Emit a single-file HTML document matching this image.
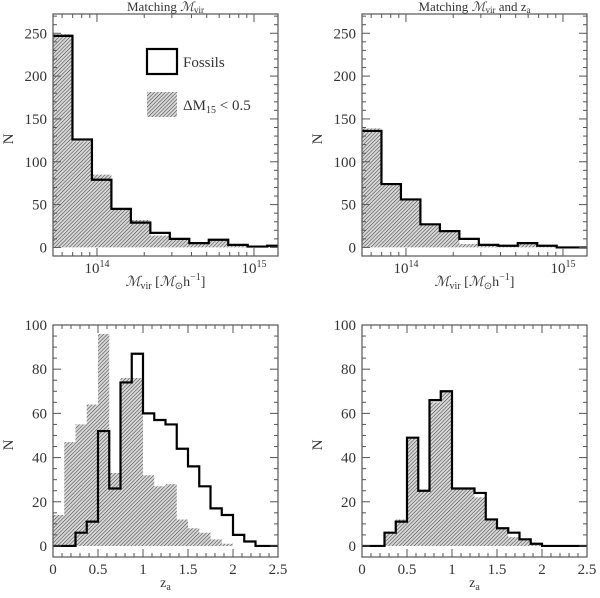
<!DOCTYPE html>
<html><head><meta charset="utf-8">
<style>
html,body{margin:0;padding:0;background:#fff}
svg text{font-family:"Liberation Serif",serif;fill:#333}
</style></head>
<body>
<svg id="fig" width="600" height="593" viewBox="0 0 600 593" xmlns="http://www.w3.org/2000/svg">
<defs>
<pattern id="hatch" patternUnits="userSpaceOnUse" width="2.6" height="2.6" patternTransform="rotate(45)">
<rect width="2.6" height="2.6" fill="#d8d8d8"/>
<line x1="0" y1="0" x2="0" y2="2.6" stroke="#333" stroke-width="1"/>
</pattern>
</defs>
</svg>
<script>
// Top panels: log10(Mvir) bins
const massEdgeStart = 13.72;
const massBinWidth = 0.124;
const massFossilsA = [247,126,79,45,29,17,10,5,9,3,1,2];
const massHatchA   = [249,124,85,45,32,14,11,5,10,2,1,1];
const massFossilsB = [136,74,56,27,19,10,3,2,5,2,0,0];
const massHatchB   = [139,74,56,27,19,4,3,2,5,2,0,0];
// Bottom panels: z_a bins
const zBinWidth = 0.125;
const zFossilsA = [0,0,6,11,52,26,74,87,60,57,55,44,36,27,17,14,5,2,0,0];
const zHatchA   = [14,47,55,64,96,33,76,76,32,27,28,12,8,6,3,1,0,0,0,0];
const zFossilsB = [0,0,6,11,49,25,66,70,26,26,24,12,8,6,3,1,0,0,0,0];
const zHatchB   = [0,0,6,12,49,25,65,70,26,26,22,12,8,4,3,1,0,0,0,0];
const massYTicks = [0,50,100,150,200,250];
const zYTicks = [0,20,40,60,80,100];
const zXTicks = [0,0.5,1,1.5,2,2.5];
const zXTickLabels = ["0","0.5","1","1.5","2","2.5"];

const NS="http://www.w3.org/2000/svg";
const svg=document.getElementById('fig');
function mk(tag,attrs,parent){const e=document.createElementNS(NS,tag);for(const k in attrs)e.setAttribute(k,attrs[k]);(parent||svg).appendChild(e);return e;}

function panel(name,x0,x1,yTop,yBot,xmin,xmax,ymin,ymax,start,bw,fos,hat,yTicks,yMinor,xMaj,xMajLab,xMinor,logAxis,xlabel,title){
  const g=mk('g',{});
  
  
  const sx=v=>x0+(v-xmin)/(xmax-xmin)*(x1-x0);
  const sy=v=>yBot-(v-ymin)/(ymax-ymin)*(yBot-yTop);
  const clip='clip-'+name;
  const cp=mk('clipPath',{id:clip},g);mk('rect',{x:x0,y:yTop,width:x1-x0,height:yBot-yTop},cp);
  let d='M'+sx(start)+','+sy(0);
  hat.forEach((v,i)=>{d+=' L'+sx(start+i*bw)+','+sy(v)+' L'+sx(start+(i+1)*bw)+','+sy(v);});
  d+=' L'+sx(start+hat.length*bw)+','+sy(0)+' Z';
  const hp=mk('path',{d:d,fill:'url(#hatch)',stroke:'none','clip-path':'url(#'+clip+')'},g);
  
  
  let p='M'+sx(start)+','+sy(fos[0]);
  fos.forEach((v,i)=>{p+=' L'+sx(start+i*bw)+','+sy(v)+' L'+sx(start+(i+1)*bw)+','+sy(v);});
  const fp=mk('path',{d:p,fill:'none',stroke:'#000','stroke-width':2.2,'clip-path':'url(#'+clip+')'},g);
  
  
  const fr=mk('rect',{x:x0,y:yTop,width:x1-x0,height:yBot-yTop,fill:'none',stroke:'#555','stroke-width':1.2},g);
  
  
  for(let v=Math.ceil(ymin/yMinor)*yMinor;v<=ymax;v+=yMinor){
    const maj=yTicks.includes(v);const L=maj?8:4;const y=sy(v);
    mk('line',{x1:x0,y1:y,x2:x0+L,y2:y,stroke:'#555'},g);
    mk('line',{x1:x1,y1:y,x2:x1-L,y2:y,stroke:'#555'},g);
  }
  yTicks.forEach(v=>{const t=mk('text',{x:x0-6,y:sy(v)+5,'text-anchor':'end','font-size':15},g);t.textContent=v;
    });
  xMinor.filter(v=>v>=xmin&&v<=xmax).forEach(v=>{const x=sx(v);mk('line',{x1:x,y1:yBot,x2:x,y2:yBot-4,stroke:'#555'},g);mk('line',{x1:x,y1:yTop,x2:x,y2:yTop+4,stroke:'#555'},g);});
  xMaj.forEach((v,i)=>{const x=sx(v);mk('line',{x1:x,y1:yBot,x2:x,y2:yBot-8,stroke:'#555'},g);mk('line',{x1:x,y1:yTop,x2:x,y2:yTop+8,stroke:'#555'},g);
    const t=mk('text',{x:x,y:yBot+17,'text-anchor':'middle','font-size':15},g);
    
    if(logAxis){t.textContent='10';const s=mk('tspan',{dy:-6,'font-size':10},t);s.textContent=xMajLab[i];}
    else t.textContent=xMajLab[i];});
  const yl=mk('text',{x:0,y:0,'text-anchor':'middle','font-size':15,transform:'translate('+(x0-40)+','+((yTop+yBot)/2+4)+') rotate(-90)'},g);
  yl.textContent='N';
  const xl=mk('text',{x:(x0+x1)/2,y:yBot+30,'text-anchor':'middle','font-size':14},g);
  xl.innerHTML=xlabel;
  if(title){const tt=mk('text',{x:(x0+x1)/2,y:yTop-3,'text-anchor':'middle','font-size':13},g);tt.innerHTML=title;
    }
  return {sx,sy,g};
}
const logMinor=[];for(let e=13;e<=15;e++)for(let m=2;m<=9;m++)logMinor.push(e+Math.log10(m));
const zMinor=[];for(let i=0;i<=25;i++)zMinor.push(i/10);
const mlab='<tspan font-style="italic">ℳ</tspan><tspan font-size="10" dy="3">vir</tspan><tspan dy="-3"> [</tspan><tspan font-style="italic">ℳ</tspan><tspan font-size="10" dy="3">⊙</tspan><tspan dy="-3">h</tspan><tspan font-size="10" dy="-6">−1</tspan><tspan dy="6">]</tspan>';
const zlab='z<tspan font-size="10" dy="3">a</tspan>';
panel('panel-mass-left',53,278,14,256,13.72,15.153,-10,272.5,massEdgeStart,massBinWidth,massFossilsA,massHatchA,massYTicks,10,[14,15],['14','15'],logMinor,true,mlab,'Matching <tspan font-style="italic">ℳ</tspan><tspan font-size="9" dy="2">vir</tspan>');
panel('panel-mass-right',362,587,14,256,13.72,15.153,-10,272.5,massEdgeStart,massBinWidth,massFossilsB,massHatchB,massYTicks,10,[14,15],['14','15'],logMinor,true,mlab,'Matching <tspan font-style="italic">ℳ</tspan><tspan font-size="9" dy="2">vir</tspan><tspan dy="-2"> and z</tspan><tspan font-size="9" dy="2">a</tspan>');
panel('panel-za-left',53,278,325,557,0,2.5,-5,100,0,zBinWidth,zFossilsA,zHatchA,zYTicks,5,zXTicks,zXTickLabels,zMinor,false,zlab,null);
panel('panel-za-right',362,587,325,557,0,2.5,-5,100,0,zBinWidth,zFossilsB,zHatchB,zYTicks,5,zXTicks,zXTickLabels,zMinor,false,zlab,null);
const lg=mk('g',{});


const l1=mk('rect',{x:147,y:49,width:30,height:25,fill:'#fff',stroke:'#000','stroke-width':2.2},lg);

const t1=mk('text',{x:183,y:67,'font-size':15},lg);t1.textContent='Fossils';
const l2=mk('rect',{x:147,y:92,width:30,height:25,fill:'url(#hatch)',stroke:'none'},lg);

const t2=mk('text',{x:183,y:110,'font-size':15},lg);t2.innerHTML='ΔM<tspan font-size="10" dy="3">15</tspan><tspan dy="-3"> &lt;  0.5</tspan>';
</script>
</body></html>
